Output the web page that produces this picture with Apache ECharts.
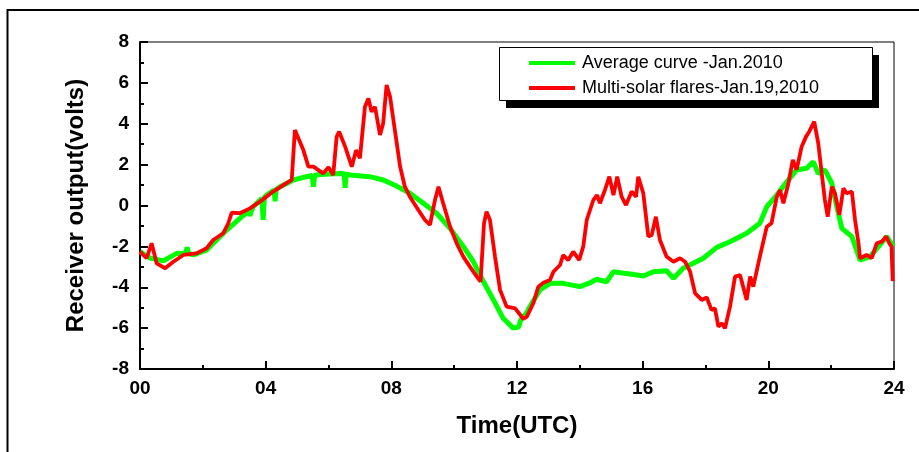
<!DOCTYPE html>
<html>
<head>
<meta charset="utf-8">
<script src="https://cdn.jsdelivr.net/npm/echarts@6/dist/echarts.min.js"></script>
<style>html,body{margin:0;padding:0;background:#fff;}#c{width:919px;height:452px;}</style>
</head>
<body>
<div id="c"></div>
<script>
const seriesNames = ['Average curve -Jan.2010', 'Multi-solar flares-Jan.19,2010'];
const xTicks = ['00', '04', '08', '12', '16', '20', '24'];
const yTicks = [-8, -6, -4, -2, 0, 2, 4, 6, 8];

const avgTime = [0.00,0.32,0.74,1.17,1.45,1.50,1.55,1.70,2.12,2.44,2.76,3.18,3.45,3.50,3.55,3.60,3.88,3.92,3.96,4.03,4.27,4.30,4.33,4.46,4.88,5.30,5.48,5.52,5.56,5.73,6.37,6.50,6.53,6.56,6.68,7.32,7.74,8.17,8.59,9.02,9.44,9.87,10.29,10.61,10.93,11.25,11.56,11.88,12.05,12.12,12.30,12.41,12.73,13.05,13.47,14.00,14.30,14.54,14.85,15.07,15.35,15.60,16.02,16.34,16.76,16.98,17.29,17.61,17.93,18.36,18.78,19.31,19.73,19.95,20.27,20.59,20.90,21.22,21.43,21.59,21.80,22.02,22.18,22.34,22.66,22.92,23.24,23.77,23.98];
const avgValue = [-2.26,-2.57,-2.71,-2.34,-2.35,-2.05,-2.35,-2.42,-2.18,-1.69,-1.20,-0.63,-0.30,-0.50,-0.25,-0.06,0.35,-0.70,0.40,0.51,0.75,0.20,0.78,0.92,1.25,1.41,1.47,0.92,1.48,1.52,1.57,1.55,0.87,1.55,1.49,1.41,1.25,0.95,0.60,0.11,-0.38,-1.12,-2.00,-2.75,-3.72,-4.62,-5.52,-6.00,-5.95,-5.60,-5.27,-4.95,-4.13,-3.81,-3.81,-3.97,-3.80,-3.61,-3.73,-3.24,-3.30,-3.35,-3.45,-3.24,-3.19,-3.56,-3.07,-2.83,-2.58,-2.05,-1.77,-1.36,-0.87,-0.06,0.51,1.16,1.74,1.82,2.14,1.57,1.74,1.09,-0.06,-1.12,-1.52,-2.67,-2.50,-1.52,-2.00];

const flareTime = [0.00,0.21,0.37,0.53,0.80,1.06,1.38,1.80,2.12,2.33,2.65,2.81,2.92,3.18,3.50,3.82,4.24,4.56,4.83,4.93,4.99,5.20,5.36,5.52,5.83,6.00,6.15,6.26,6.34,6.53,6.74,6.88,7.00,7.16,7.27,7.37,7.48,7.64,7.74,7.85,7.96,8.12,8.28,8.43,8.59,8.86,9.07,9.23,9.39,9.50,9.65,9.87,10.08,10.29,10.50,10.72,10.84,10.95,11.03,11.14,11.30,11.46,11.67,11.94,12.20,12.31,12.52,12.68,12.84,13.05,13.16,13.37,13.47,13.63,13.79,13.98,14.11,14.22,14.43,14.55,14.64,14.80,14.94,15.07,15.19,15.33,15.47,15.65,15.79,15.86,16.02,16.18,16.29,16.42,16.55,16.76,16.98,17.19,17.35,17.51,17.67,17.88,18.04,18.19,18.30,18.41,18.52,18.62,18.78,18.94,19.10,19.31,19.42,19.52,19.73,19.95,20.10,20.27,20.37,20.48,20.64,20.78,20.90,21.06,21.20,21.30,21.46,21.59,21.70,21.80,21.89,22.02,22.12,22.26,22.39,22.49,22.66,22.76,22.87,22.92,23.13,23.29,23.45,23.61,23.75,23.85,23.92,23.96];
const flareValue = [-2.26,-2.58,-1.85,-2.83,-3.07,-2.75,-2.42,-2.34,-2.09,-1.69,-1.36,-0.87,-0.35,-0.38,-0.14,0.19,0.68,1.00,1.25,3.69,3.78,2.71,1.90,1.90,1.57,1.87,1.49,3.37,3.61,2.88,1.90,2.71,2.31,4.83,5.24,4.59,4.83,3.45,4.02,5.90,5.32,3.61,1.90,0.92,0.43,-0.22,-0.71,-0.95,0.27,0.92,0.11,-1.04,-1.85,-2.50,-2.99,-3.48,-3.72,-0.87,-0.30,-0.71,-2.50,-4.13,-4.95,-5.03,-5.54,-5.45,-4.78,-3.97,-3.78,-3.64,-3.24,-2.91,-2.42,-2.67,-2.26,-2.67,-2.00,-0.71,0.27,0.51,0.11,0.76,1.41,0.51,1.41,0.43,0.02,0.68,0.43,1.41,0.60,-1.52,-1.44,-0.55,-1.69,-2.50,-2.75,-2.58,-2.75,-3.24,-4.30,-4.62,-4.50,-5.11,-5.03,-5.93,-5.76,-6.01,-4.95,-3.48,-3.40,-4.62,-3.48,-3.97,-2.50,-1.04,-0.87,0.43,0.76,0.11,1.09,2.23,1.74,2.88,3.37,3.61,4.10,3.04,1.57,0.27,-0.55,0.92,0.60,-0.46,0.84,0.60,0.68,-0.71,-1.85,-2.58,-2.42,-2.58,-1.85,-1.77,-1.52,-1.85,-2.00,-3.70];

const pair = (t, v) => t.map((x, i) => [x, v[i]]);
const FONT = '"Liberation Sans", Arial, sans-serif';

const chart = echarts.init(document.getElementById('c'), null, {renderer: 'canvas'});
chart.setOption({
  animation: false,
  backgroundColor: '#fff',
  grid: {left: 140, right: 25, top: 42, bottom: 83, show: true, borderColor: '#000', borderWidth: 1, backgroundColor: 'transparent'},
  graphic: [
    {type: 'rect', z: 0, shape: {x: 7.5, y: 10, width: 1000, height: 1000}, style: {fill: null, stroke: '#000', lineWidth: 2}, silent: true},
    {type: 'rect', z: 10, shape: {x: 506, y: 55, width: 373, height: 53}, style: {fill: '#000'}, silent: true},
    {type: 'rect', z: 10, shape: {x: 499.5, y: 47.5, width: 373, height: 53}, style: {fill: '#fff', stroke: '#000', lineWidth: 1}, silent: true}
  ],
  legend: {
    z: 20,
    orient: 'vertical',
    left: 529, top: 53, padding: 0,
    itemWidth: 46, itemHeight: 4, itemGap: 5,
    icon: 'rect',
    textStyle: {fontFamily: FONT, fontSize: 18, color: '#000', lineHeight: 20, padding: [0, 0, 0, 2]},
    data: seriesNames
  },
  xAxis: {
    type: 'value', min: 0, max: 24, interval: 4,
    name: 'Time(UTC)', nameLocation: 'middle', nameGap: 45,
    nameTextStyle: {fontFamily: FONT, fontSize: 24, fontWeight: 'bold', color: '#000'},
    axisLine: {show: true, onZero: false, lineStyle: {color: '#000', width: 2}},
    axisTick: {show: true, inside: true, length: 8, lineStyle: {color: '#000', width: 2}},
    minorTick: {show: true, splitNumber: 2, length: 4, lineStyle: {color: '#000', width: 2}},
    splitLine: {show: false},
    axisLabel: {margin: 10, fontFamily: FONT, fontSize: 19, fontWeight: 'bold', color: '#000',
      formatter: v => xTicks[Math.round(v / 4)]}
  },
  yAxis: {
    type: 'value', min: -8, max: 8, interval: 2,
    name: 'Receiver output(volts)', nameLocation: 'middle', nameGap: 52,
    nameTextStyle: {fontFamily: FONT, fontSize: 24, fontWeight: 'bold', color: '#000'},
    axisLine: {show: true, onZero: false, lineStyle: {color: '#000', width: 2}},
    axisTick: {show: true, inside: true, length: 8, lineStyle: {color: '#000', width: 2}},
    minorTick: {show: true, splitNumber: 2, length: 4, lineStyle: {color: '#000', width: 2}},
    splitLine: {show: false},
    axisLabel: {margin: 11, fontFamily: FONT, fontSize: 19, fontWeight: 'bold', color: '#000',
      formatter: v => String(yTicks[Math.round((v + 8) / 2)])}
  },
  series: [
    {name: seriesNames[0], type: 'line', data: pair(avgTime, avgValue), showSymbol: false, symbol: 'none',
     color: '#00ff00', lineStyle: {color: '#00ff00', width: 5}, z: 2},
    {name: seriesNames[1], type: 'line', data: pair(flareTime, flareValue), showSymbol: false, symbol: 'none',
     color: '#ff0000', lineStyle: {color: '#ff0000', width: 3.8}, z: 3}
  ]
});
</script>
</body>
</html>
